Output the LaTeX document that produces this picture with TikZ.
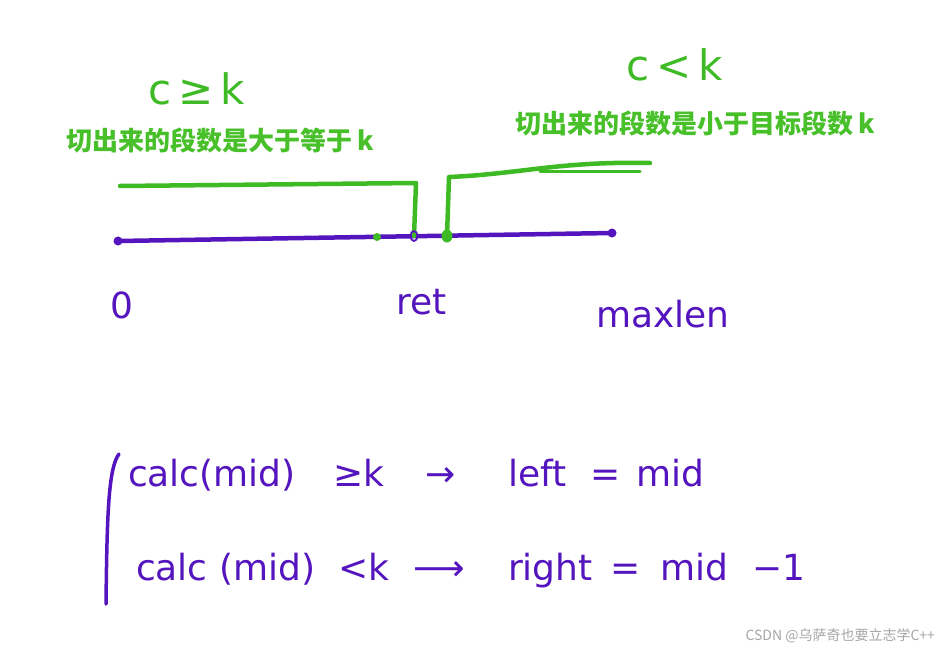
\documentclass[tikz,border=0pt]{standalone}
\usepackage{fontspec}
\setmainfont{DejaVu Sans}
\newfontfamily\cjk{Noto Sans CJK SC}
\definecolor{hgreen}{RGB}{62,186,36}
\definecolor{tgreen}{RGB}{72,192,42}
\definecolor{hpurple}{RGB}{84,20,190}
\begin{document}
\begin{tikzpicture}[x=1pt,y=-1pt,
  hand/.style={inner sep=0pt,outer sep=0pt},
  pur/.style={hand,text=hpurple,font=\fontsize{36}{36}\selectfont},
  grn/.style={hand,text=hgreen,font=\fontsize{42}{42}\selectfont},
  cn/.style={hand,text=tgreen,font=\cjk\bfseries\fontsize{26}{26}\selectfont},
  gline/.style={draw=hgreen,line width=4.5pt,line cap=round,line join=round},
  pline/.style={draw=hpurple,line width=4.5pt,line cap=round,line join=round},
  wm/.style={hand,text=black!35,font=\cjk\fontsize{14}{14}\selectfont}]
\useasboundingbox (0,0) rectangle (942,651);
\fill[white] (0,0) rectangle (942,651);

% green handwritten conditions
\node[grn,anchor=base west] (cge) at (148,104) {c\,≥\,k};
\node[grn,anchor=base west] (clt) at (626,80) {c\,<\,k};
\node[cn,anchor=west] (tl) at (66,140) {切出来的段数是大于等于 k};
\node[cn,anchor=west] (tr) at (515,123) {切出来的段数是小于目标段数 k};

% number line
\coordinate (p0) at (118,241);
\coordinate (pe) at (612,233);
\draw[pline] (p0) -- (pe);
\fill[hpurple] (p0) circle (4.5);
\fill[hpurple] (pe) circle (4.5);

% green step curve
\coordinate (g1) at (120,186);
\coordinate (g2) at (416,183);
\coordinate (g3) at (414,236);
\coordinate (g4) at (447,236);
\coordinate (g5) at (449,177);
\coordinate (g6) at (650,163);
\coordinate (g7) at (540,171);
\coordinate (g8) at (640,171);
\draw[gline] (g1) -- (g2) -- (g3);
\draw[gline] (g4) -- (g5) .. controls (520,174) and (560,161) .. (g6);
\draw[gline,line width=3pt] (g7) -- (g8);

% marks on the line
\fill[hgreen] (377,237) circle (4);
\draw[hpurple,line width=1.8pt] (414,236) ellipse (3.5 and 5);
\fill[hgreen] (g4) ellipse (5.5 and 6.5);

% axis labels
\node[pur,anchor=base west] (l0) at (110,318) {0};
\node[pur,anchor=base west] (lret) at (396,314) {ret};
\node[pur,anchor=base west] (lmax) at (596,327) {maxlen};

% bracket
\coordinate (b1) at (119,454);
\coordinate (b2) at (106,604);
\draw[pline,line width=3.5pt] (b1) .. controls (108,468) and (107,520) .. (b2);

% row 1
\node[pur,anchor=base west] (r1a) at (128,486) {calc(mid)};
\node[pur,anchor=base west] (r1b) at (333,486) {≥k};
\node[pur,anchor=base west] (r1c) at (425,486) {→};
\node[pur,anchor=base west] (r1d) at (508,486) {left};
\node[pur,anchor=base west] (r1e) at (590,486) {=};
\node[pur,anchor=base west] (r1f) at (636,486) {mid};

% row 2
\node[pur,anchor=base west] (r2a) at (136,580) {calc (mid)};
\node[pur,anchor=base west] (r2b) at (338,580) {<k};
\node[pur,anchor=base west] (r2c) at (413,580) {⟶};
\node[pur,anchor=base west] (r2d) at (508,580) {right};
\node[pur,anchor=base west] (r2e) at (610,580) {=};
\node[pur,anchor=base west] (r2f) at (660,580) {mid};
\node[pur,anchor=base west] (r2g) at (752,580) {−1};

% watermark
\node[wm,anchor=east] (wmk) at (935,636) {CSDN @乌萨奇也要立志学C++};
\end{tikzpicture}
\end{document}
